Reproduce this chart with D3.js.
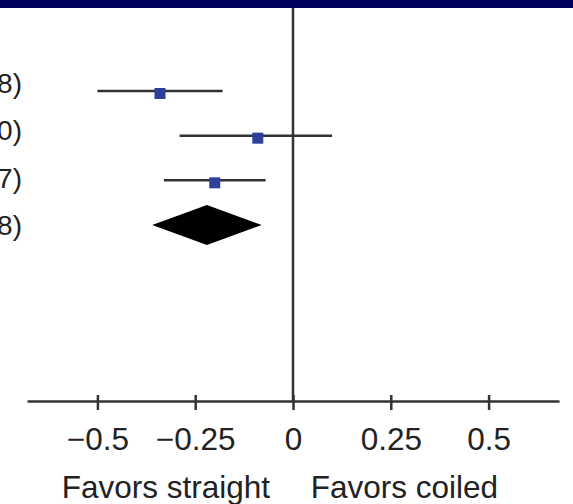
<!doctype html>
<html>
  <head>
    <meta charset="utf-8">
    <script src="https://cdnjs.cloudflare.com/ajax/libs/d3/7.8.5/d3.min.js"></script>
    <style>
      body { margin: 0; background: #fff; }
      text {
        font-family: "Liberation Sans", Arial, sans-serif;
        fill: #222;
      }
      .axis text { font-size: 31.5px; }
      .axis path, .axis line { stroke: #333; stroke-width: 2.5px; }
    </style>
  </head>
  <body>
    <svg width="573" height="504"></svg>
    <script>
      // study rows
      var rowLabels = ["\u22120.34 (\u22120.50, \u22120.18)", "\u22120.09 (\u22120.29, 0.10)",
                       "\u22120.20 (\u22120.33, \u22120.07)", "\u22120.22 (\u22120.36, \u22120.08)"];
      var est  = [-0.34, -0.09, -0.20];
      var lower = [-0.50, -0.29, -0.33];
      var upper = [-0.18, 0.10, -0.07];
      // pooled estimate (diamond)
      var pooled = { est: -0.22, lo: -0.36, hi: -0.08 };
      var tickValues = [-0.5, -0.25, 0, 0.25, 0.5];
      var favorLabels = ["Favors straight", "Favors coiled"];
      var favorAt = [-0.325, 0.285];

      var svg = d3.select("svg");

      var x = d3.scaleLinear().domain([-0.68, 0.68]).range([27, 559]);
      var y = d3.scaleLinear().domain([0, 3]).range([91, 225]);
      var yLab = d3.scaleLinear().domain([0, 3]).range([93, 235]);
      var axisY = 401;

      // navy band at top
      svg.append("rect").attr("x", 0).attr("y", 0).attr("width", 573).attr("height", 8)
        .attr("fill", "#00005f");

      // zero line
      svg.append("line")
        .attr("x1", x(0)).attr("x2", x(0))
        .attr("y1", 8).attr("y2", axisY)
        .attr("stroke", "#333").attr("stroke-width", 2.5);

      // row labels (run off the left edge, as in the source)
      svg.selectAll("text.row")
        .data(rowLabels)
        .enter().append("text")
          .attr("class", "row")
          .attr("x", 22)
          .attr("y", (d, i) => yLab(i))
          .attr("text-anchor", "end")
          .style("font-size", "28px")
          .text(d => d);

      // CI lines
      var rows = est.map((e, i) => ({ est: e, lo: lower[i], hi: upper[i], i: i }));
      svg.selectAll("line.ci")
        .data(rows)
        .enter().append("line")
          .attr("class", "ci")
          .attr("x1", d => x(d.lo)).attr("x2", d => x(d.hi))
          .attr("y1", d => y(d.i)).attr("y2", d => y(d.i))
          .attr("stroke", "#333").attr("stroke-width", 2.5);

      // point estimates
      svg.selectAll("rect.pt")
        .data(rows)
        .enter().append("rect")
          .attr("class", "pt")
          .attr("x", d => x(d.est) - 5.5)
          .attr("y", d => y(d.i) + 2.5 - 5.5)
          .attr("width", 11).attr("height", 11)
          .attr("fill", "#2e3f9c");

      // diamond
      var dy = y(3);
      svg.append("path")
        .attr("d", d3.line()([
          [x(pooled.lo), dy], [x(pooled.est), dy - 20],
          [x(pooled.hi), dy], [x(pooled.est), dy + 20]
        ]) + "Z")
        .attr("fill", "#000");

      // x axis
      var gx = svg.append("g")
        .attr("class", "axis")
        .attr("transform", `translate(0,${axisY})`)
        .call(d3.axisBottom(x)
          .tickValues(tickValues)
          .tickSize(9)
          .tickSizeOuter(0)
          .tickPadding(0)
          .tickFormat(d => String(d).replace("-", "\u2212")));
      gx.selectAll(".tick line").attr("y1", -6).attr("y2", 9);
      gx.selectAll(".tick text")
        .attr("y", 49).attr("dy", null)
        .attr("fill", "#222");

      svg.selectAll("text.favor")
        .data(favorLabels)
        .enter().append("text")
          .attr("class", "favor")
          .attr("x", (d, i) => x(favorAt[i]))
          .attr("y", 498)
          .attr("text-anchor", "middle")
          .style("font-size", "31.5px")
          .text(d => d);
    </script>
  </body>
</html>
